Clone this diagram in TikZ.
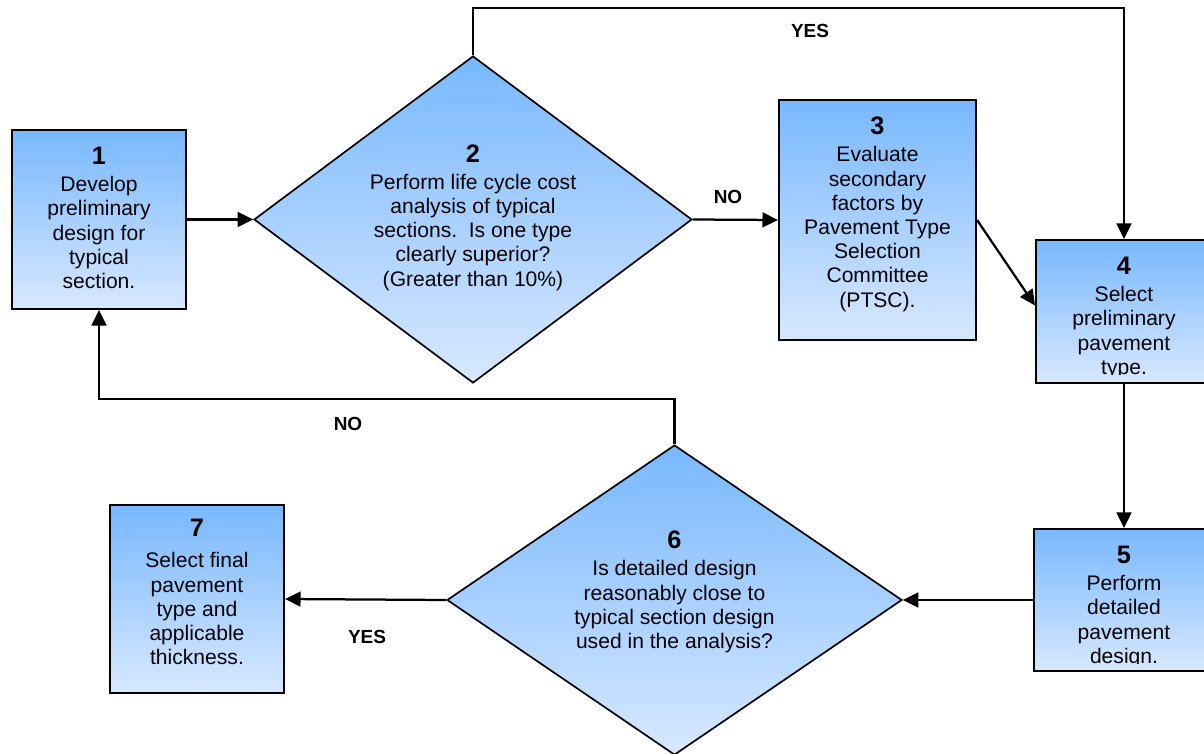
\documentclass[tikz,border=0pt]{standalone}
\usepackage{fontspec}
\setmainfont{Liberation Sans}
\usepackage{tikz}
\usetikzlibrary{shapes,arrows,positioning,calc,arrows.meta}
\definecolor{flowTop}{RGB}{120,184,255}
\definecolor{flowBottom}{RGB}{216,232,255}
\newcommand{\pxu}{0.025cm}
\newcommand{\stepno}[1]{{\bfseries\fontsize{18}{20}\selectfont #1}}

\begin{document}
\begin{tikzpicture}[x=0.025cm,y=-0.025cm,
        flowtxt/.style={font=\fontsize{15}{17.2}\selectfont,align=center,inner sep=0pt},
        stepbox/.style={draw,line width=1.5pt,top color=flowTop,bottom color=flowBottom,inner sep=0pt},
        decision/.style={diamond,draw,line width=1.2pt,top color=flowTop,bottom color=flowBottom,inner sep=0pt},
        arr/.style={line width=1.6pt,-{Triangle[length=11pt,width=10.5pt]}},
        lbl/.style={font=\fontsize{13.5}{16}\selectfont\bfseries}]
    \useasboundingbox (0,0) rectangle (1204,754);

    \node[stepbox,minimum width=174*\pxu,minimum height=179*\pxu] (b1) at (99,219.5) {};
    \node[flowtxt,below=0.45cm of b1.north] (t1) {\stepno{1}\\[2pt]Develop\\preliminary\\design for\\typical\\section.};

    \node[decision,minimum width=438*\pxu,minimum height=327*\pxu] (d2) at (473,219.5) {};
    \node[flowtxt,above=0.05cm of d2.center,anchor=center] (t2) {\stepno{2}\\[2pt]Perform life cycle cost\\analysis of typical\\sections.\ \ Is one type\\clearly superior?\\(Greater than 10\%)};

    \node[stepbox,minimum width=197*\pxu,minimum height=240*\pxu] (b3) at (877.5,220) {};
    \node[flowtxt,below=0.45cm of b3.north] (t3) {\stepno{3}\\[2pt]Evaluate\\secondary\\factors by\\Pavement Type\\Selection\\Committee\\(PTSC).};

    \node[stepbox,minimum width=176*\pxu,minimum height=143*\pxu] (b4) at (1124,311.5) {};
    \begin{scope}
        \clip ([yshift=-0.75pt]b4.north west) rectangle ([yshift=10*\pxu]b4.south east);
        \node[flowtxt,below=0.45cm of b4.north] (t4) {\stepno{4}\\[2pt]Select\\preliminary\\pavement\\type.};
    \end{scope}

    \node[stepbox,minimum width=180*\pxu,minimum height=142*\pxu] (b5) at (1124,600) {};
    \begin{scope}
        \clip ([yshift=-0.75pt]b5.north west) rectangle ([yshift=9*\pxu]b5.south east);
        \node[flowtxt,below=0.45cm of b5.north] (t5) {\stepno{5}\\[2pt]Perform\\detailed\\pavement\\design.};
    \end{scope}

    \node[decision,minimum width=455*\pxu,minimum height=310*\pxu] (d6) at (674.5,600) {};
    \node[flowtxt,above=0.2cm of d6.center,anchor=center] (t6) {\stepno{6}\\[2pt]Is detailed design\\reasonably close to\\typical section design\\used in the analysis?};

    \node[stepbox,minimum width=174*\pxu,minimum height=188*\pxu] (b7) at (197,599) {};
    \node[flowtxt,below=0.375cm of b7.north] (t7) {\stepno{7}\\[5pt]Select final\\pavement\\type and\\applicable\\thickness.};

    \coordinate (yestop) at (0,8);
    \coordinate (nobend) at (0,399);

    \draw[arr] (b1.east) -- (d2.west);
    \draw[arr] (d2.east) -- (b3.west);
    \draw[arr] (b3.east) -- ([yshift=6*\pxu]b4.west);
    \draw[arr] (d2.north) -- (d2.north |- yestop) -| (b4.north);
    \draw[arr] (b4.south) -- (b5.north);
    \draw[arr] (b5.west) -- (d6.east);
    \draw[arr] (d6.west) -- (b7.east);
    \draw[arr] (d6.north) -- (d6.north |- nobend) -| (b1.south);

    \node[lbl] (yes1) at (810,31) {YES};
    \node[lbl] (no1) at (728,197) {NO};
    \node[lbl] (no2) at (348,424) {NO};
    \node[lbl] (yes2) at (367,637) {YES};
\end{tikzpicture}
\end{document}
